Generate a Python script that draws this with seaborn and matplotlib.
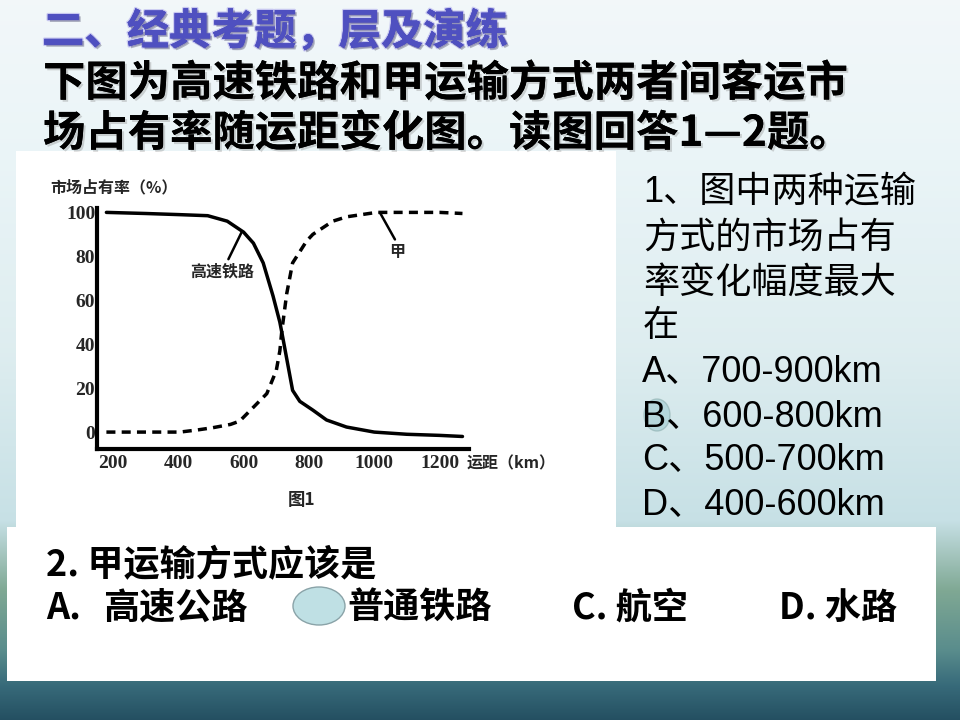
import numpy as np
import pandas as pd
import matplotlib
matplotlib.use("Agg")
import matplotlib.pyplot as plt
import matplotlib.patheffects as pe
from matplotlib.patches import Rectangle, Ellipse
from matplotlib.ticker import MultipleLocator
import seaborn as sns

# ---------------- data ----------------
hsr_km = [180, 300, 400, 490, 550, 600, 630, 660, 690, 711, 720, 735, 750, 772, 812, 854, 915, 1000, 1100, 1200, 1270]
hsr_share = [100, 99.5, 99, 98.5, 96, 91, 86, 77, 62, 50, 43, 31, 19, 14, 10, 5.5, 2.3, 0, -1, -1.5, -2]
jia_km = [180, 300, 405, 460, 506, 560, 588, 628, 671, 700, 711, 717, 732, 750, 793, 812, 873, 916, 1007, 1100, 1200, 1270]
jia_share = [0, 0, 0, 1, 2, 3.5, 5, 11, 17.5, 28, 37, 46, 63, 77, 87, 90, 96, 98, 100, 100, 100, 99.5]
x_ticks = [200, 400, 600, 800, 1000, 1200]
y_ticks = [0, 20, 40, 60, 80, 100]

title_text = "二、经典考题，层及演练"
intro_lines = ["下图为高速铁路和甲运输方式两者间客运市", "场占有率随运距变化图。读图回答1—2题。"]
q1_lines = ["1、图中两种运输", "方式的市场占有", "率变化幅度最大", "在"]
q1_options = ["A、700-900km", "B、600-800km", "C、500-700km", "D、400-600km"]
q2_stem = "2. 甲运输方式应该是"
q2_options = ["A.", "高速公路", "普通铁路", "C. 航空", "D. 水路"]

sns.set_theme(style="white")
plt.rcParams["font.family"] = ["Noto Sans CJK SC", "DejaVu Sans"]
plt.rcParams["axes.unicode_minus"] = False

W, H = 960, 720
fig = plt.figure(figsize=(9.6, 7.2), dpi=100)


def P(x, y):
    return (x / W, 1 - y / H)


# ---------------- background ----------------
bg = fig.add_axes([0, 0, 1, 1], zorder=-10)
stops_y = [0, 150, 350, 520, 590, 650, 684, 720]
stops_c = np.array([
    [0.95, 0.97, 0.98],
    [0.92, 0.96, 0.97],
    [0.87, 0.93, 0.94],
    [0.78, 0.88, 0.90],
    [0.50, 0.66, 0.58],
    [0.35, 0.55, 0.55],
    [0.22, 0.42, 0.48],
    [0.14, 0.31, 0.38],
])
ys = np.arange(H)
img = np.stack([np.interp(ys, stops_y, stops_c[:, k]) for k in range(3)], axis=-1)
img = np.repeat(img[:, None, :], W, axis=1)
bg.imshow(img, aspect="auto", extent=[0, W, H, 0])
bg.set_xlim(0, W)
bg.set_ylim(H, 0)
bg.axis("off")

# white panels
bg.add_patch(Rectangle((16, 151), 600, 380, facecolor="white", edgecolor="none"))
bg.add_patch(Rectangle((7, 527), 929, 154, facecolor="white", edgecolor="none"))

# ---------------- header text ----------------
shadow = [pe.withSimplePatchShadow(offset=(1.5, -1.5), shadow_rgbFace="#888888", alpha=0.35), pe.Normal()]
fig.text(*P(42, 32), title_text, ha="left", va="center", fontsize=30.5, fontweight="bold",
         color="#4f50c0",
         path_effects=[pe.withStroke(linewidth=2, foreground="#c8c8f0"),
                       pe.withSimplePatchShadow(offset=(1.5, -1.5), alpha=0.3), pe.Normal()])
fig.text(*P(43, 84), intro_lines[0], ha="left", va="center", fontsize=30.5, fontweight="bold",
         color="black", path_effects=shadow)
fig.text(*P(43, 134), intro_lines[1], ha="left", va="center", fontsize=30.5, fontweight="bold",
         color="black", path_effects=shadow)

# ---------------- right question text ----------------
q1_y = [192, 238, 283, 327]
for s, y in zip(q1_lines, q1_y):
    fig.text(*P(643, y), s, ha="left", va="center", fontsize=26, color="black",
             family=["Liberation Sans", "Noto Sans CJK SC"])
opt_y = [372, 417, 460, 505]
for s, y in zip(q1_options, opt_y):
    fig.text(*P(642, y), s, ha="left", va="center", fontsize=26, color="black",
             family=["Liberation Sans", "Noto Sans CJK SC"])
bg.add_patch(Ellipse((657, 415), 26, 32, facecolor="#9cc9cf", edgecolor="#8aa", alpha=0.55, lw=1))

# ---------------- bottom question ----------------
fig.text(*P(46, 566), q2_stem, ha="left", va="center", fontsize=26, fontweight="bold", color="black")
fig.text(*P(46, 608), q2_options[0], ha="left", va="center", fontsize=26, fontweight="bold", color="black")
fig.text(*P(103, 608), q2_options[1], ha="left", va="center", fontsize=26, fontweight="bold", color="black")
bg.add_patch(Ellipse((319, 606), 52, 38, facecolor="#bfe0e4", edgecolor="#8aa3a8", lw=1))
fig.text(*P(347, 608), q2_options[2], ha="left", va="center", fontsize=26, fontweight="bold", color="black")
fig.text(*P(572, 608), q2_options[3], ha="left", va="center", fontsize=26, fontweight="bold", color="black")
fig.text(*P(779, 608), q2_options[4], ha="left", va="center", fontsize=26, fontweight="bold", color="black")

# ---------------- chart ----------------
ax = fig.add_axes([96.6 / W, 1 - 449 / H, (469 - 96.6) / W, (449 - 208) / H])
ax.set_facecolor("none")
df_hsr = pd.DataFrame({"km": hsr_km, "share": hsr_share})
df_jia = pd.DataFrame({"km": jia_km, "share": jia_share})
sns.lineplot(data=df_hsr, x="km", y="share", ax=ax, color="black", lw=2.5, estimator=None)
sns.lineplot(data=df_jia, x="km", y="share", ax=ax, color="black", lw=2.5, estimator=None,
             linestyle=(0, (2.6, 1.8)))
ax.set_xlim(150, 1290)
ax.set_ylim(-7.7, 102)
for side in ["top", "right"]:
    ax.spines[side].set_visible(False)
for side in ["left", "bottom"]:
    ax.spines[side].set_linewidth(3)
    ax.spines[side].set_color("black")
ax.set_xticks(x_ticks)
ax.set_yticks(y_ticks)
ax.xaxis.set_minor_locator(MultipleLocator(100))
ax.yaxis.set_minor_locator(MultipleLocator(10))
ax.tick_params(which="both", direction="in", length=5, width=2, color="black")
ax.tick_params(axis="y", pad=1)
ax.tick_params(axis="x", pad=4)
ax.set_xticklabels([str(v) for v in x_ticks], fontsize=14, fontweight="bold", family="Liberation Serif")
ax.set_yticklabels([str(v) for v in y_ticks], fontsize=14, fontweight="bold", family="Liberation Serif")
ax.set_xlabel("")
ax.set_ylabel("")
ax.grid(False)

ax.annotate("高速铁路", xy=(594, 91), xytext=(533, 73), ha="center", va="center",
            fontsize=11.5, fontweight="bold",
            arrowprops=dict(arrowstyle="-", color="black", lw=1.8, relpos=(0.57, 1.0), shrinkA=1, shrinkB=0))
ax.annotate("甲", xy=(1017, 100), xytext=(1071, 82), ha="center", va="center",
            fontsize=11.5, fontweight="bold",
            arrowprops=dict(arrowstyle="-", color="black", lw=1.8, relpos=(0.5, 1.0), shrinkA=1, shrinkB=0))

fig.text(*P(50, 187), "市场占有率（%）", ha="left", va="center", fontsize=11.5, fontweight="bold")
fig.text(*P(467, 463), "运距（km）", ha="left", va="center", fontsize=11.5, fontweight="bold")
fig.text(*P(302, 500), "图1", ha="center", va="center", fontsize=12.5, fontweight="bold")

fig.savefig("out.png", dpi=100)
